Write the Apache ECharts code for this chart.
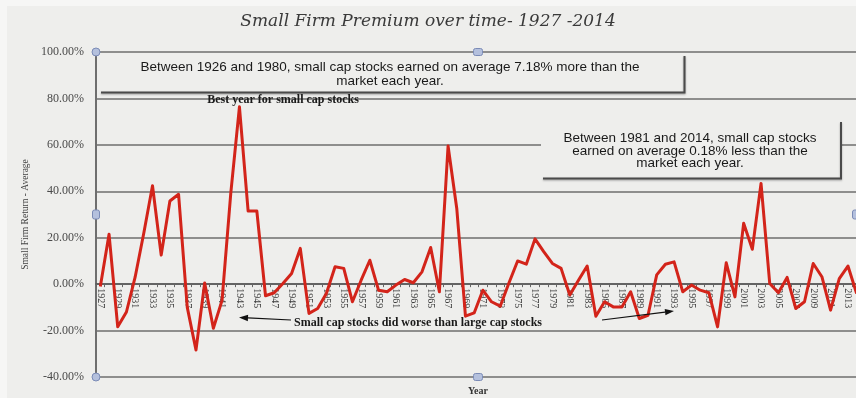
<!DOCTYPE html>
<html>
<head>
<meta charset="utf-8">
<script src="https://cdn.jsdelivr.net/npm/echarts@6/dist/echarts.min.js"></script>
<style>
  html, body { margin: 0; padding: 0; background: #f6f6f5; }
  #chart { width: 856px; height: 398px; }
</style>
</head>
<body>
<div id="chart"></div>
<script>
// Year categories 1927..2014
const years = [];
for (let y = 1927; y <= 2014; y++) years.push(String(y));

// Small firm return minus market return, percent per year
const premium = [
  -1, 21.5, -18.4, -12, 3, 22, 42.4, 12.5, 35.8, 38.7,          // 1927-1936
  -10, -28.4, 0.5, -19, -7, 39, 76.4, 31.5, 31.5, -5,           // 1937-1946
  -3.7, 0.3, 4.6, 15.4, -12.6, -10.5, -4, 7.5, 6.8, -7.6,       // 1947-1956
  1.7, 10.3, -2.6, -3.3, -0.4, 2, 0.6, 5.3, 15.8, -3.3,         // 1957-1966
  59.5, 32.6, -13.8, -12.4, -2.6, -7.6, -9.5, 0.5, 10, 8.6,     // 1967-1976
  19.5, 14, 8.9, 6.8, -4.7, 1.7, 7.8, -13.8, -7.6, -9.8,        // 1977-1986
  -9.8, -3.3, -14.8, -13.4, 4, 8.6, 9.6, -3.3, -0.4, -2.6,      // 1987-1996
  -3.7, -18.4, 9.2, -5.5, 26.2, 15, 43.4, 0.3, -3.7, 2.9,       // 1997-2006
  -10.5, -7.6, 8.9, 3.2, -11.2, 2.4, 7.8, -4                    // 2007-2014
];

// Value axis ticks
const yTicks = [-40, -20, 0, 20, 40, 60, 80, 100];

const titleText = 'Small Firm Premium over time- 1927 -2014';
const yAxisTitle = 'Small Firm Return - Average';
const xAxisTitle = 'Year';
const box1Lines = [
  'Between 1926 and 1980, small cap stocks earned on average 7.18% more than the',
  'market each year.'
];
const box2Lines = [
  'Between 1981 and 2014, small cap stocks',
  'earned on average 0.18% less than the',
  'market each year.'
];
const bestYearNote = 'Best year for small cap stocks';
const worseNote = 'Small cap stocks did worse than large cap stocks';

const SERIF = '"Liberation Serif", "DejaVu Serif", serif';
const SANS = '"Liberation Sans", Arial, sans-serif';
const GRID = '#6e6e6e';
const PANEL = '#eeeeec';

const chart = echarts.init(document.getElementById('chart'), null, { renderer: 'canvas' });

const option = {
  backgroundColor: '#f6f6f5',
  animation: false,
  title: {
    text: titleText,
    left: 'center',
    top: 8,
    textStyle: {
      fontFamily: '"DejaVu Serif", serif',
      fontStyle: 'italic',
      fontWeight: 'normal',
      fontSize: 17,
      color: '#3a3a3a'
    }
  },
  grid: { left: 96, right: -5, top: 52, bottom: 21, containLabel: false, outerBoundsMode: 'none' },
  xAxis: {
    type: 'category',
    data: years,
    boundaryGap: true,
    position: 'bottom',
    offset: 0,
    axisLine: { onZero: false, lineStyle: { color: '#555', width: 1.5 } },
    axisTick: { show: true, interval: 0, length: 3, lineStyle: { color: '#666', width: 1 } },
    axisLabel: {
      interval: 1,
      rotate: -90,
      margin: 4,
      fontFamily: SERIF,
      fontSize: 10,
      color: '#3a3a3a'
    },
    splitLine: { show: false }
  },
  yAxis: {
    type: 'value',
    min: yTicks[0],
    max: yTicks[yTicks.length - 1],
    interval: 20,
    name: yAxisTitle,
    nameLocation: 'middle',
    nameRotate: 90,
    nameGap: 63,
    nameTextStyle: { fontFamily: SERIF, fontSize: 9.5, color: '#444' },
    axisLine: { show: true, lineStyle: { color: GRID, width: 2 } },
    axisTick: { show: false },
    axisLabel: {
      margin: 12,
      fontFamily: SERIF,
      fontSize: 12,
      color: '#4a4a4a',
      formatter: v => v.toFixed(2) + '%'
    },
    splitLine: { show: true, lineStyle: { color: GRID, width: 1.5 } }
  },
  series: [{
    type: 'line',
    data: premium,
    symbol: 'none',
    smooth: false,
    z: 10,
    lineStyle: { color: '#d3241a', width: 3, join: 'round' }
  }]
};

chart.setOption(option);

// Lift the category axis (line, ticks, labels) onto the zero level of the value axis
const gridModel = chart.getModel().getComponent('grid');
const rect = gridModel.coordinateSystem.getRect();
const zeroY = chart.convertToPixel({ yAxisIndex: 0 }, 0);
chart.setOption({ xAxis: { offset: -(rect.y + rect.height - zeroY) } });

// Annotations, callout boxes, arrows and frame handles
function arrow(x1, y1, x2, y2) {
  const ang = Math.atan2(y2 - y1, x2 - x1);
  const L = 9, W = 3.2;
  const bx = x2 - L * Math.cos(ang), by = y2 - L * Math.sin(ang);
  const px = -Math.sin(ang) * W, py = Math.cos(ang) * W;
  return [
    { type: 'line', shape: { x1: x1, y1: y1, x2: bx, y2: by }, style: { stroke: '#111', lineWidth: 1.2 }, z: 20 },
    { type: 'polygon', shape: { points: [[x2, y2], [bx + px, by + py], [bx - px, by - py]] }, style: { fill: '#111' }, z: 20 }
  ];
}

function handle(cx, cy, kind) {
  const st = { fill: '#b4c0dd', stroke: '#7b8bb6', lineWidth: 1 };
  if (kind === 'circle') return { type: 'circle', shape: { cx: cx, cy: cy, r: 4 }, style: st, z: 30 };
  if (kind === 'h') return { type: 'rect', shape: { x: cx - 4.5, y: cy - 3.5, width: 9, height: 7, r: 2 }, style: st, z: 30 };
  return { type: 'rect', shape: { x: cx - 3.5, y: cy - 4.5, width: 7, height: 9, r: 2 }, style: st, z: 30 };
}

const gx0 = rect.x, gy0 = rect.y, gy1 = rect.y + rect.height;
const gcx = 478, gcy = (gy0 + gy1) / 2;

const graphics = [
  // light panel behind the figure
  { type: 'rect', shape: { x: 7, y: 6, width: 860, height: 400 }, style: { fill: PANEL }, z: -10, silent: true },

  // first callout box
  { type: 'rect', shape: { x: 100, y: 55, width: 584, height: 37 }, style: { fill: PANEL }, z: 10 },
  { type: 'polyline', shape: { points: [[101, 92.5], [684.5, 92.5], [684.5, 56]] },
    style: { stroke: '#4a4a4a', lineWidth: 2, fill: null, shadowBlur: 2, shadowColor: 'rgba(0,0,0,0.35)', shadowOffsetY: 1 }, z: 11 },
  { type: 'text', x: 390, y: 61, style: { text: box1Lines.join('\n'), fontFamily: SANS, fontSize: 13.5, lineHeight: 13.5, fill: '#1a1a1a', align: 'center', verticalAlign: 'top' }, z: 12 },

  // second callout box
  { type: 'rect', shape: { x: 541, y: 121, width: 300, height: 57 }, style: { fill: PANEL }, z: 10 },
  { type: 'polyline', shape: { points: [[543, 178.5], [841, 178.5], [841, 122]] },
    style: { stroke: '#4a4a4a', lineWidth: 2, fill: null, shadowBlur: 2, shadowColor: 'rgba(0,0,0,0.35)', shadowOffsetY: 1 }, z: 11 },
  { type: 'text', x: 690, y: 132.5, style: { text: box2Lines.join('\n'), fontFamily: SANS, fontSize: 13.5, lineHeight: 12.2, fill: '#1a1a1a', align: 'center', verticalAlign: 'top' }, z: 12 },

  // notes
  { type: 'text', x: 283, y: 100, style: { text: bestYearNote, fontFamily: SERIF, fontWeight: 'bold', fontSize: 12, fill: '#1a1a1a', align: 'center', verticalAlign: 'middle' }, z: 12 },
  { type: 'text', x: 418, y: 323, style: { text: worseNote, fontFamily: SERIF, fontWeight: 'bold', fontSize: 12, fill: '#1a1a1a', align: 'center', verticalAlign: 'middle' }, z: 12 },
  ...arrow(291, 320, 239, 317.5),
  ...arrow(602, 320, 674, 311),

  // axis title under the plot
  { type: 'text', x: gcx, y: 391, style: { text: xAxisTitle, fontFamily: SERIF, fontWeight: 'bold', fontSize: 10, fill: '#333', align: 'center', verticalAlign: 'middle' }, z: 12 },

  // frame handles
  handle(gx0, gy0, 'circle'),
  handle(gx0, gy1, 'circle'),
  handle(gcx, gy0, 'h'),
  handle(gcx, gy1, 'h'),
  handle(gx0, gcy, 'v'),
  handle(856, gcy, 'v')
];

chart.setOption({ graphic: graphics });
</script>
</body>
</html>
